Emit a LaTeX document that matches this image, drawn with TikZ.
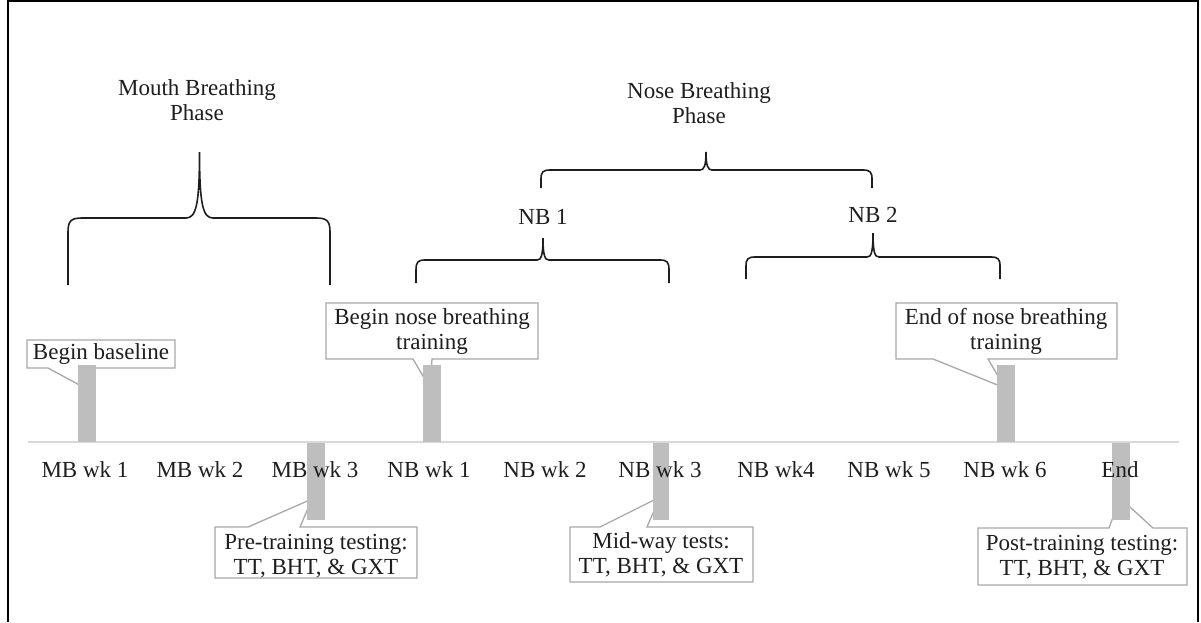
\documentclass[tikz,border=0pt]{standalone}
\usepackage{fontspec}
\setmainfont{Liberation Serif}
\begin{document}
\begin{tikzpicture}[x=1pt,y=-1pt,
  lbl/.style={inner sep=0pt,text=txt,font=\fontsize{23}{25}\selectfont,align=center},
  calloutbox/.style={draw=cgray,fill=white,line width=1.3pt,line join=miter},
  barfill/.style={fill=bgray,draw=none},
  bracepath/.style={draw=txt,line width=1.6pt},
  axisline/.style={draw=lgray,line width=1.8pt}]
\definecolor{txt}{HTML}{1E1E1E}
\definecolor{cgray}{HTML}{A8A8A8}
\definecolor{bgray}{HTML}{BEBEBE}
\definecolor{lgray}{HTML}{D9D9D9}
\useasboundingbox (0,0) rectangle (1201,622);
% frame
\draw[line width=1.6pt,black] (8,622) -- (8,1) -- (1198,1) -- (1198,622);
% timeline
\coordinate (tlA) at (28,442);
\coordinate (tlB) at (1179,442);
\draw[axisline] (tlA) -- (tlB);
% braces
\draw[bracepath] (68,285) -- (68,232) .. controls (68,221) and (71,218) .. (82,218) -- (186,218)
  .. controls (196,218) and (199.5,205) .. (199.5,152) .. controls (199.5,205) and (203,218) .. (213,218)
  -- (316,218) .. controls (327,218) and (330,221) .. (330,232) -- (330,285);
\draw[bracepath] (541,188) -- (541,179) .. controls (541,172) and (543,170) .. (550,170) -- (700,170)
  .. controls (704,170) and (706,166) .. (706,152) .. controls (706,166) and (708,170) .. (712,170)
  -- (863,170) .. controls (870,170) and (872,172) .. (872,179) -- (872,188);
\draw[bracepath] (416,283) -- (416,270) .. controls (416,262) and (418,260) .. (425,260) -- (537,260)
  .. controls (541,260) and (543,256) .. (543,238) .. controls (543,256) and (545,260) .. (549,260)
  -- (660,260) .. controls (667,260) and (669,262) .. (669,270) -- (669,283);
\draw[bracepath] (746,279) -- (746,266) .. controls (746,259) and (748,257) .. (755,257) -- (867,257)
  .. controls (871,257) and (873,253) .. (873,233) .. controls (873,253) and (875,257) .. (879,257)
  -- (991,257) .. controls (998,257) and (1000,259) .. (1000,266) -- (1000,279);
% brace labels
\node[lbl] (mbp) at (197,100) {Mouth Breathing\\Phase};
\node[lbl] (nbp) at (699,103) {Nose Breathing\\Phase};
\node[lbl] (nb1) at (543,217) {NB 1};
\node[lbl] (nb2) at (873,215) {NB 2};
% callouts (upper)
\path[calloutbox] (27,340) -- (175,340) -- (175,368) -- (87,368) -- (85,388) -- (48,368) -- (27,368) -- cycle;
\path[calloutbox] (326,303) -- (538,303) -- (538,359) -- (432,359) -- (430,388) -- (413,359) -- (326,359) -- cycle;
\path[calloutbox] (896,303) -- (1117,303) -- (1117,359) -- (988,359) -- (1005,388) -- (933,359) -- (896,359) -- cycle;
% callouts (lower)
\path[calloutbox] (215,527) -- (248,527) -- (312,499) -- (300,527) -- (417,527) -- (417,578) -- (215,578) -- cycle;
\path[calloutbox] (570,527) -- (600,527) -- (660,497) -- (647,527) -- (753,527) -- (753,582) -- (570,582) -- cycle;
\path[calloutbox] (978,528) -- (1109,528) -- (1120,498) -- (1153,528) -- (1187,528) -- (1187,585) -- (978,585) -- cycle;
% bars
\path[barfill] (78,365) rectangle (96,442);
\path[barfill] (423,365) rectangle (441,442);
\path[barfill] (997,365) rectangle (1015,442);
\path[barfill] (307,443) rectangle (325,520);
\path[barfill] (653,443) rectangle (669,520);
\path[barfill] (1112,443) rectangle (1130,520);
% callout texts
\node[lbl] (c1) at (101,354) {Begin baseline};
\node[lbl] (c2) at (432,331) {Begin nose breathing\\training};
\node[lbl] (c3) at (1006,331) {End of nose breathing\\training};
\node[lbl] (c4) at (316,556) {Pre-training testing:\\TT, BHT, \& GXT};
\node[lbl] (c5) at (661,555) {Mid-way tests:\\TT, BHT, \& GXT};
\node[lbl] (c6) at (1082,557) {Post-training testing:\\TT, BHT, \& GXT};
% timeline labels
\node[lbl] (w1) at (85,470) {MB wk 1};
\node[lbl] (w2) at (200,470) {MB wk 2};
\node[lbl] (w3) at (315,470) {MB wk 3};
\node[lbl] (w4) at (429,470) {NB wk 1};
\node[lbl] (w5) at (545,470) {NB wk 2};
\node[lbl] (w6) at (660,470) {NB wk 3};
\node[lbl] (w7) at (776,470) {NB wk4};
\node[lbl] (w8) at (889,470) {NB wk 5};
\node[lbl] (w9) at (1005,470) {NB wk 6};
\node[lbl] (w10) at (1120,470) {End};
\end{tikzpicture}
\end{document}
